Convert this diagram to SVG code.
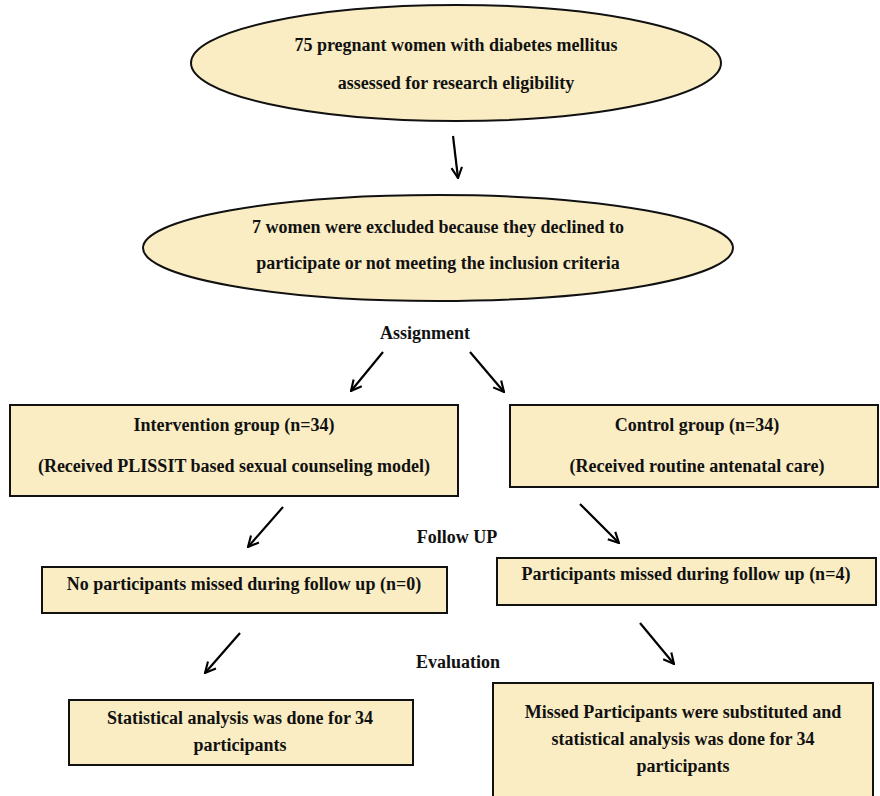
<svg xmlns="http://www.w3.org/2000/svg" width="880" height="796" viewBox="0 0 880 796">
<defs>
<marker id="ah" viewBox="0 0 10 10" refX="9" refY="5" markerWidth="6" markerHeight="6" orient="auto" markerUnits="strokeWidth">
<path d="M1,1 L9,5 L1,9" fill="none" stroke="#000" stroke-width="1.6"/>
</marker>
</defs>
<style>
.n{fill:#FAEDC4;stroke:#111;stroke-width:2}
.t{font-family:"Liberation Serif","Times New Roman",serif;font-weight:bold;font-size:18px;fill:#111;text-anchor:middle}
.c{stroke:#000;stroke-width:2.2;fill:none;marker-end:url(#ah)}
</style>
<rect width="880" height="796" fill="#fff"/>
<g id="n1"><ellipse class="n" cx="456" cy="63" rx="265" ry="58"/>
<text class="t" x="456" y="51">75 pregnant women with diabetes mellitus</text>
<text class="t" x="456" y="89">assessed for research eligibility</text></g>
<g id="n2"><ellipse class="n" cx="438" cy="248" rx="295" ry="53"/>
<text class="t" x="438" y="233">7 women were excluded because they declined to</text>
<text class="t" x="438" y="269">participate or not meeting the inclusion criteria</text></g>
<g id="lbl1"><text class="t" x="425" y="339">Assignment</text></g>
<g id="n3"><rect class="n" x="10" y="405" width="448" height="91"/>
<text class="t" x="234" y="431">Intervention group (n=34)</text>
<text class="t" x="234" y="472">(Received PLISSIT based sexual counseling model)</text></g>
<g id="n4"><rect class="n" x="510" y="405" width="368" height="82"/>
<text class="t" x="697" y="431">Control group (n=34)</text>
<text class="t" x="697" y="472">(Received routine antenatal care)</text></g>
<g id="lbl2"><text class="t" x="457" y="543">Follow UP</text></g>
<g id="n5"><rect class="n" x="42" y="567" width="405" height="46"/>
<text class="t" x="244" y="590">No participants missed during follow up (n=0)</text></g>
<g id="n6"><rect class="n" x="497" y="558" width="379" height="47"/>
<text class="t" x="686" y="580">Participants missed during follow up (n=4)</text></g>
<g id="lbl3"><text class="t" x="458" y="668">Evaluation</text></g>
<g id="n7"><rect class="n" x="69" y="700" width="344" height="65"/>
<text class="t" x="240" y="724">Statistical analysis was done for 34</text>
<text class="t" x="240" y="751">participants</text></g>
<g id="n8"><rect class="n" x="493" y="683" width="380" height="120"/>
<text class="t" x="683" y="718">Missed Participants were substituted and</text>
<text class="t" x="683" y="745">statistical analysis was done for 34</text>
<text class="t" x="683" y="772">participants</text></g>
<g id="connectors">
<line class="c" x1="453" y1="136" x2="458" y2="178"/>
<line class="c" x1="383" y1="352" x2="351" y2="391"/>
<line class="c" x1="470" y1="352" x2="504" y2="392"/>
<line class="c" x1="283" y1="507" x2="248" y2="547"/>
<line class="c" x1="580" y1="504" x2="619" y2="543"/>
<line class="c" x1="240" y1="633" x2="205" y2="673"/>
<line class="c" x1="640" y1="623" x2="674" y2="664"/>
</g>
</svg>
